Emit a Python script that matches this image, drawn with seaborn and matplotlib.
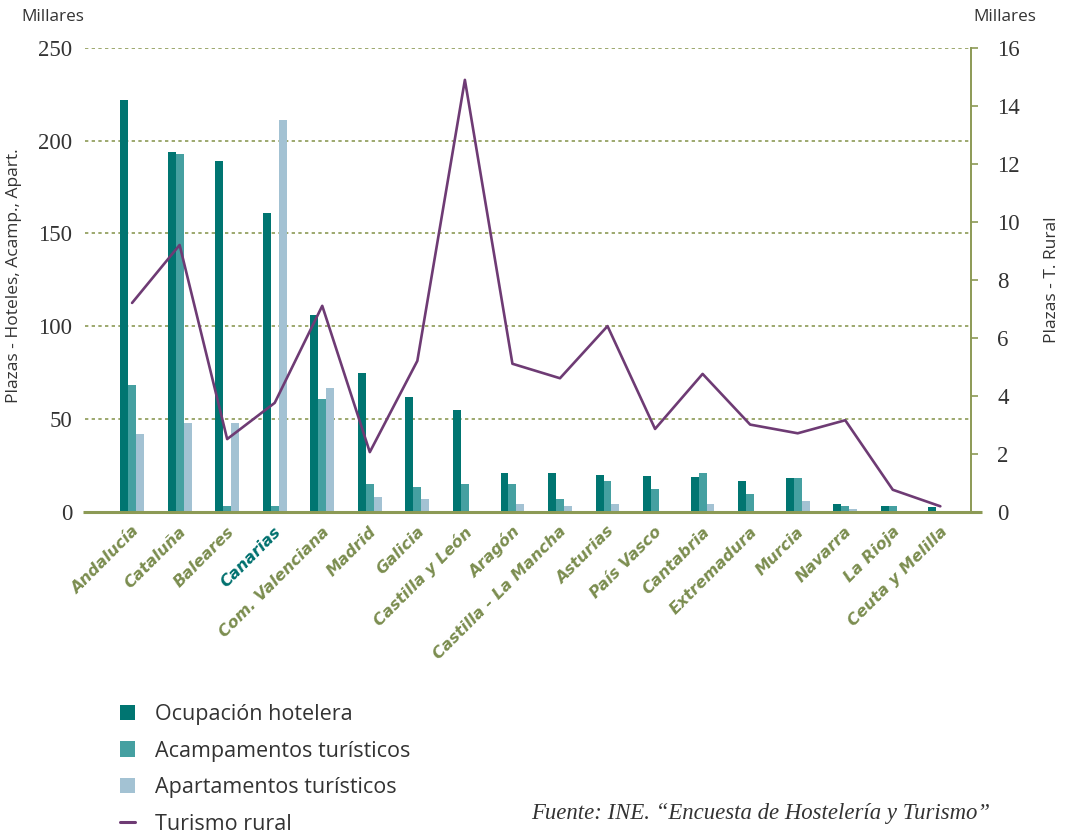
import numpy as np
import pandas as pd
import matplotlib
matplotlib.use("Agg")
import matplotlib.pyplot as plt
import matplotlib.transforms as mtransforms
from matplotlib.patches import Patch
from matplotlib.lines import Line2D
import seaborn as sns

regiones = ["Andalucía", "Cataluña", "Baleares", "Canarias", "Com. Valenciana",
            "Madrid", "Galicia", "Castilla y León", "Aragón", "Castilla - La Mancha",
            "Asturias", "País Vasco", "Cantabria", "Extremadura", "Murcia",
            "Navarra", "La Rioja", "Ceuta y Melilla"]
hoteles = [222, 194, 189, 161, 106, 74.5, 61.5, 54.5, 20.5, 21, 19.5, 19, 18.5, 16.2, 17.8, 3.8, 3.2, 2.2]
acampamentos = [68.5, 193, 2.7, 2.7, 60.5, 14.6, 13, 14.6, 14.6, 7, 16.2, 12, 20.5, 9.2, 17.8, 3.2, 3.2, 0]
apartamentos = [42, 47.5, 47.5, 211, 66.4, 7.6, 6.5, 0, 4.3, 2.7, 3.8, 0, 4.3, 0, 5.9, 1.6, 0, 0]
rural = [7.2, 9.2, 2.5, 3.75, 7.1, 2.05, 5.2, 14.9, 5.1, 4.6, 6.4, 2.85, 4.75, 3.0, 2.7, 3.15, 0.75, 0.18]

series = ["Ocupación hotelera", "Acampamentos turísticos", "Apartamentos turísticos"]
serie_rural = "Turismo rural"
left_ticks = [0, 50, 100, 150, 200, 250]
right_ticks = [0, 2, 4, 6, 8, 10, 12, 14, 16]

colores = ["#007571", "#45a0a1", "#a3c2d3"]
col_rural = "#6e3b74"
olive = "#8c9a55"
olive_txt = "#7b8d4f"
teal_txt = "#00706e"
txt = "#333333"

sns.set_theme(style="white")
plt.rcParams["font.family"] = ["Open Sans", "DejaVu Sans"]

df = pd.DataFrame({
    "region": regiones * 3,
    "serie": np.repeat(series, len(regiones)),
    "valor": hoteles + acampamentos + apartamentos,
})

W, H = 1069, 833
fig = plt.figure(figsize=(W / 100, H / 100), dpi=100)
x0, x1, yb, yt = 85, 971, 511.5, 48
ax = fig.add_axes([x0 / W, 1 - yb / H, (x1 - x0) / W, (yb - yt) / H])

sns.barplot(data=df, x="region", y="valor", hue="serie", order=regiones,
            hue_order=series, palette=colores, width=0.5, gap=0,
            saturation=1, errorbar=None, linewidth=0, legend=False, ax=ax)

ax2 = ax.twinx()
sns.lineplot(x=np.arange(len(regiones)), y=rural, color=col_rural, lw=1.9,
             ax=ax2, sort=False)

ax.set_xlim(-0.99, 17.645)
ax.set_ylim(0, 250)
ax2.set_ylim(0, 16)
ax.set_xlabel("")
ax.set_ylabel("")
ax2.set_xlabel("")
ax2.set_ylabel("")

ax.set_axisbelow(True)
ax.yaxis.grid(True, color=olive, linestyle=(0, (2, 2)), lw=1.2)
ax.xaxis.grid(False)
for s in ax.spines.values():
    s.set_visible(False)
for k, s in ax2.spines.items():
    s.set_visible(k == "right")
ax2.spines["right"].set_color(olive)
ax2.spines["right"].set_linewidth(1.4)

# baseline
ax.plot([-0.0025, 1.0124], [0, 0], transform=ax.transAxes, color=olive,
        lw=2.2, clip_on=False, zorder=5, solid_capstyle="butt")

ax.set_yticks(left_ticks)
ax.set_yticklabels([str(t) for t in left_ticks])
ax.tick_params(axis="y", length=0, pad=9, labelsize=16.5, labelcolor=txt)
for lbl in ax.get_yticklabels():
    lbl.set_fontfamily(["Liberation Serif", "DejaVu Serif"])

ax2.set_yticks(right_ticks)
ax2.set_yticklabels([str(t) for t in right_ticks])
ax2.tick_params(axis="y", length=5, width=1.2, color=olive, pad=14,
                labelsize=16.5, labelcolor=txt, right=True)
for lbl in ax2.get_yticklabels():
    lbl.set_fontfamily(["Liberation Serif", "DejaVu Serif"])

ax.set_xticks(range(len(regiones)))
ax.set_xticklabels(regiones, rotation=45, ha="right", rotation_mode="anchor",
                   fontsize=11.5, fontweight="bold", fontstyle="italic",
                   family=["DejaVu Sans"], color=olive_txt)
ax.tick_params(axis="x", length=0, pad=9)
off = mtransforms.ScaledTranslation(-1 / 100, 0, fig.dpi_scale_trans)
for lbl in ax.get_xticklabels():
    lbl.set_transform(lbl.get_transform() + off)
    if lbl.get_text() == "Canarias":
        lbl.set_color(teal_txt)

fig.text(21 / W, 1 - 17 / H, "Millares", ha="left", va="center", fontsize=12.3, color=txt)
fig.text(973 / W, 1 - 17 / H, "Millares", ha="left", va="center", fontsize=12.3, color=txt)
fig.text(14 / W, 1 - 276 / H, "Plazas - Hoteles, Acamp., Apart.", rotation=90,
         ha="center", va="center", fontsize=12.5, color=txt)
fig.text(1052 / W, 1 - 280 / H, "Plazas - T. Rural", rotation=90,
         ha="center", va="center", fontsize=12.5, color=txt)
fig.text(990 / W, 1 - 813 / H, "Fuente: INE. \u201cEncuesta de Hostelería y Turismo\u201d",
         ha="right", va="center", fontsize=16.4, style="italic", color=txt,
         family=["Liberation Serif", "DejaVu Serif"])

handles = [Patch(facecolor=c, edgecolor="none") for c in colores]
handles.append(Line2D([0], [0], color=col_rural, lw=2.2))
fig.legend(handles, series + [serie_rural], loc="upper left",
           bbox_to_anchor=(120 / W, 1 - 704 / H), frameon=False,
           fontsize=15.5, handlelength=0.7, handleheight=0.7,
           handletextpad=0.93, labelspacing=0.72, borderpad=0,
           borderaxespad=0, labelcolor=txt)

fig.savefig("out.png", dpi=100)
